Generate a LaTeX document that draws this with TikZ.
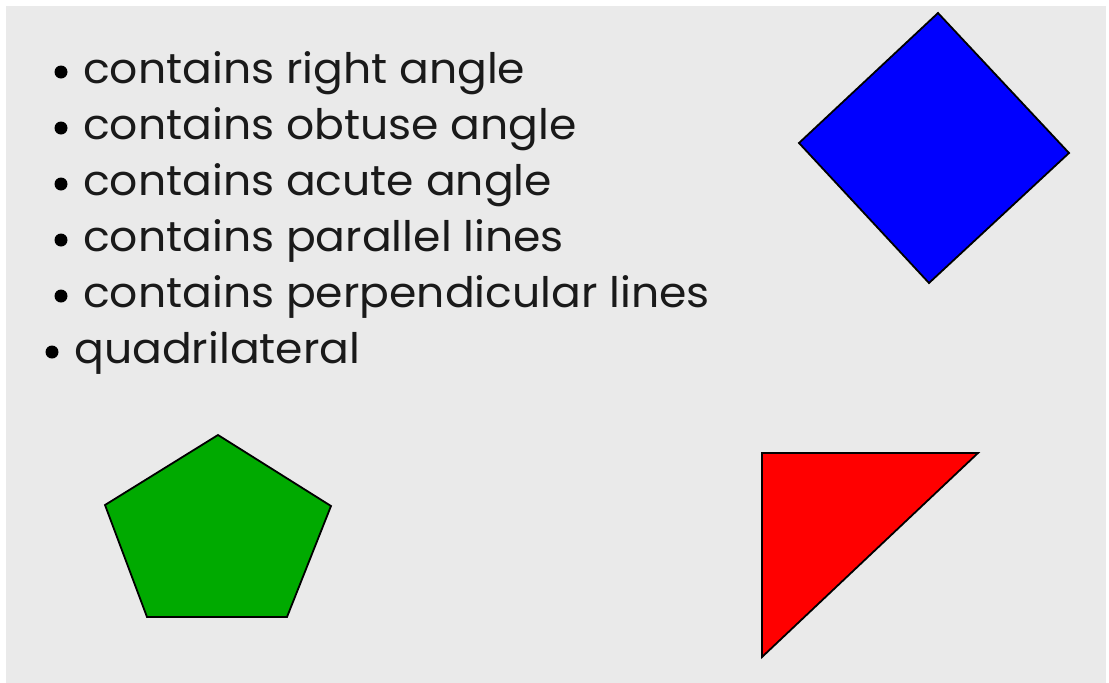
\documentclass[tikz,border=0pt]{standalone}
\usepackage{fontspec}
\setmainfont{Poppins}
\newfontfamily\listfont[FakeStretch=1.05]{Poppins}
\definecolor{bg}{HTML}{EAEAEA}
\definecolor{pgreen}{HTML}{00AA00}
\definecolor{txt}{HTML}{1A1A1A}
\begin{document}
\begin{tikzpicture}[x=1pt,y=-1pt,
  polyshape/.style={draw=black,line width=1.8pt,line join=miter},
  item/.style={anchor=base west,inner sep=0pt,text=txt,font=\listfont\fontsize{42}{44}\selectfont},
  bul/.style={circle,fill=black,draw=none,inner sep=0pt,minimum size=13pt}]
\useasboundingbox (0,0) rectangle (1109,683);
\fill[white] (0,0) rectangle (1109,683);
\fill[bg] (6,6) rectangle (1106,683);
% list
\node[bul] (b1) at (61,72) {};
\node[item] (t1) at (83,83) {contains right angle};
\node[bul] (b2) at (61,128) {};
\node[item] (t2) at (83,139) {contains obtuse angle};
\node[bul] (b3) at (61,184) {};
\node[item] (t3) at (83,195) {contains acute angle};
\node[bul] (b4) at (61,240) {};
\node[item] (t4) at (83,251) {contains parallel lines};
\node[bul] (b5) at (61,296) {};
\node[item] (t5) at (83,307) {contains perpendicular lines};
\node[bul] (b6) at (52,352) {};
\node[item] (t6) at (74,363) {quadrilateral};
% diamond
\draw[polyshape,fill=blue] (938,13) -- (1069,153) -- (929,283) -- (799,143) -- cycle;
% pentagon
\draw[polyshape,fill=pgreen] (218,435) -- (331,506) -- (287,617) -- (147,617) -- (105,505) -- cycle;
% triangle
\draw[polyshape,fill=red] (762,453) -- (978,453) -- (762,657) -- cycle;
\end{tikzpicture}
\end{document}
